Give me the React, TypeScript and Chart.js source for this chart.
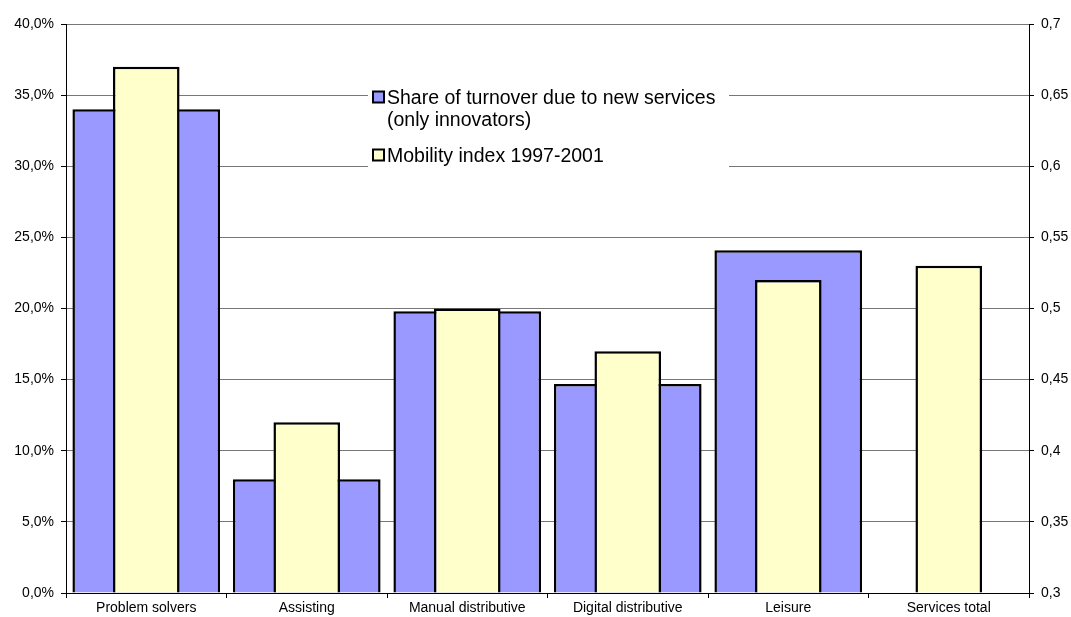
import { useEffect, useRef } from "react";
import { Chart, registerables } from "chart.js";

Chart.register(...registerables);

// Service categories along the x axis
const categories = [
  "Problem solvers",
  "Assisting",
  "Manual distributive",
  "Digital distributive",
  "Leisure",
  "Services total",
];

// Share of turnover due to new services, in percent (left axis)
const turnoverShare: (number | null)[] = [34.0, 8.0, 19.8, 14.7, 24.1, null];

// Mobility index 1997-2001 (right axis)
const mobilityIndex = [0.67, 0.42, 0.5, 0.47, 0.52, 0.53];

// Axis tick values
const leftTickValues = [0, 5, 10, 15, 20, 25, 30, 35, 40];
const rightTickValues = [0.3, 0.35, 0.4, 0.45, 0.5, 0.55, 0.6, 0.65, 0.7];

// Legend entries (each entry may wrap onto several lines)
const legendEntries = [
  ["Share of turnover due to new services", "(only innovators)"],
  ["Mobility index 1997-2001"],
];

const BLUE = "#9999FF";
const YELLOW = "#FFFFCC";
const FONT = "'Liberation Sans', Arial, Helvetica, sans-serif";

const legendPlugin = {
  id: "boxedLegend",
  beforeDatasetsDraw(chart: Chart) {
    const { ctx, chartArea } = chart;
    const x0 = chartArea.left + 302;
    const y0 = chartArea.top + 56;
    ctx.save();
    ctx.fillStyle = "#ffffff";
    ctx.fillRect(x0, y0, 361, 102);

    const colors = [BLUE, YELLOW];
    const baselines = [[103.5, 125.5], [161.5]];
    ctx.font = `19.5px ${FONT}`;
    ctx.textBaseline = "alphabetic";
    ctx.textAlign = "left";
    legendEntries.forEach((lines, i) => {
      const firstBase = baselines[i][0];
      // marker square
      ctx.fillStyle = colors[i];
      ctx.fillRect(x0 + 5, firstBase - 12, 11, 11);
      ctx.strokeStyle = "#000";
      ctx.lineWidth = 2;
      ctx.strokeRect(x0 + 5, firstBase - 12, 11, 11);
      ctx.fillStyle = "#000";
      lines.forEach((line, j) => {
        ctx.fillText(line, x0 + 19, baselines[i][j]);
      });
    });
    ctx.restore();
  },
};

function formatPercent(v: number) {
  return v.toFixed(1).replace(".", ",") + "%";
}

function formatIndex(v: number) {
  return String(Number(v.toFixed(2))).replace(".", ",");
}

export default function App() {
  const canvasRef = useRef<HTMLCanvasElement | null>(null);

  useEffect(() => {
    if (!canvasRef.current) return;
    Chart.defaults.font.family = FONT;
    Chart.defaults.color = "#000";

    const chart = new Chart(canvasRef.current, {
      type: "bar",
      data: {
        labels: categories,
        datasets: [
          {
            label: legendEntries[0].join(" "),
            data: turnoverShare,
            yAxisID: "yLeft",
            backgroundColor: BLUE,
            borderColor: "#000",
            borderWidth: 2.5,
            grouped: false,
            order: 1,
            categoryPercentage: 1,
            barPercentage: 0.92,
          },
          {
            label: legendEntries[1].join(" "),
            data: mobilityIndex,
            yAxisID: "yRight",
            backgroundColor: YELLOW,
            borderColor: "#000",
            borderWidth: 2.5,
            grouped: false,
            order: 0,
            base: rightTickValues[0],
            categoryPercentage: 1,
            barPercentage: 0.415,
          },
        ],
      },
      options: {
        animation: false,
        responsive: true,
        maintainAspectRatio: false,
        layout: { padding: { top: 24, left: 0, right: 0, bottom: 0 } },
        plugins: {
          legend: { display: false },
          tooltip: { enabled: false },
        },
        scales: {
          x: {
            offset: true,
            grid: {
              offset: true,
              drawOnChartArea: false,
              tickLength: 5,
              color: "#000",
            },
            border: { color: "#000", width: 1 },
            ticks: {
              font: { size: 14 },
              color: "#000",
              padding: 2,
              maxRotation: 0,
              autoSkip: false,
            },
            afterFit(scale: any) {
              scale.height = 24;
            },
          },
          yLeft: {
            position: "left",
            min: leftTickValues[0],
            max: leftTickValues[leftTickValues.length - 1],
            afterBuildTicks(scale: any) {
              scale.ticks = leftTickValues.map((v) => ({ value: v }));
            },
            grid: {
              color: "#777",
              tickColor: "#000",
              tickLength: 5,
            },
            border: { color: "#000", width: 1 },
            ticks: {
              font: { size: 14 },
              color: "#000",
              padding: 7,
              callback: (v: any) => formatPercent(Number(v)),
            },
            afterFit(scale: any) {
              scale.width = 66;
            },
          },
          yRight: {
            position: "right",
            min: rightTickValues[0],
            max: rightTickValues[rightTickValues.length - 1],
            afterBuildTicks(scale: any) {
              scale.ticks = rightTickValues.map((v) => ({ value: v }));
            },
            grid: {
              drawOnChartArea: false,
              tickColor: "#000",
              tickLength: 5,
            },
            border: { color: "#000", width: 1 },
            ticks: {
              font: { size: 14 },
              color: "#000",
              padding: 7,
              callback: (v: any) => formatIndex(Number(v)),
            },
            afterFit(scale: any) {
              scale.width = 42;
            },
          },
        },
      },
      plugins: [legendPlugin],
    } as any);

    return () => chart.destroy();
  }, []);

  return (
    <div
      style={{
        position: "absolute",
        left: 0,
        top: 0,
        width: 1071,
        height: 617,
        background: "#fff",
      }}
    >
      <canvas ref={canvasRef} />
    </div>
  );
}
